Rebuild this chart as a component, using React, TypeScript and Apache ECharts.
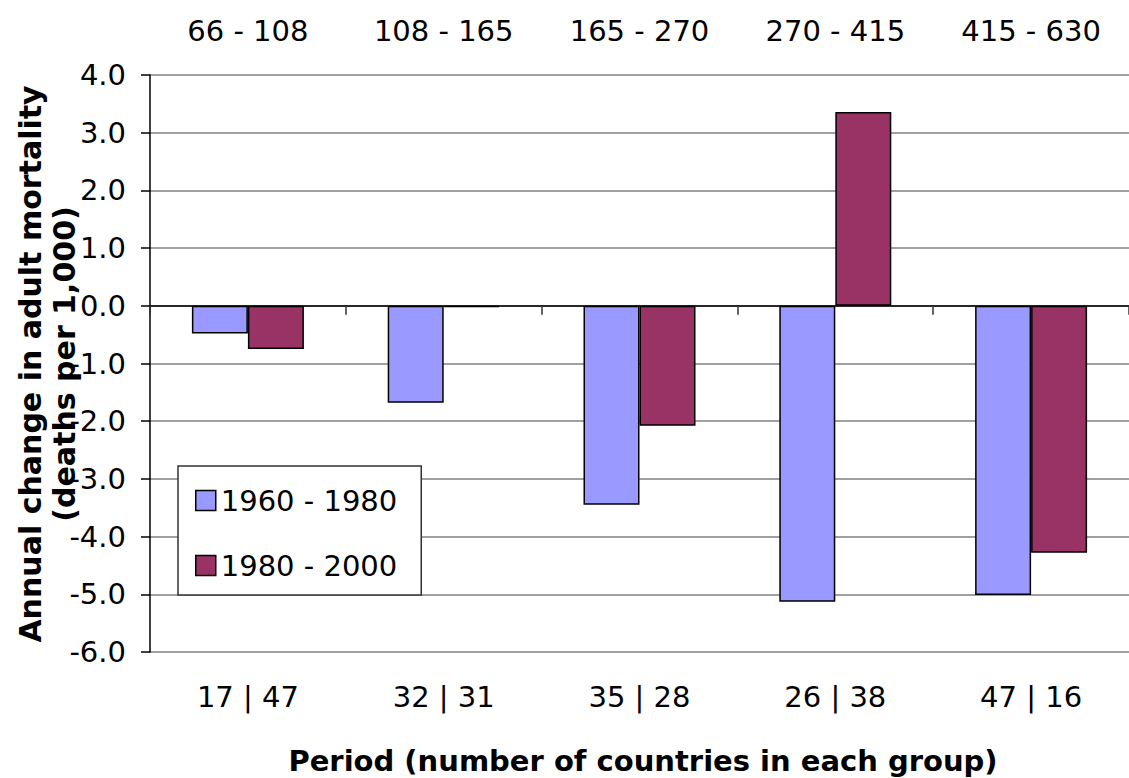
import React, { useEffect, useRef } from "react";
import * as echarts from "echarts";

const countryGroups = ["17 | 47", "32 | 31", "35 | 28", "26 | 38", "47 | 16"];
const rangeLabels = ["66 - 108", "108 - 165", "165 - 270", "270 - 415", "415 - 630"];
const seriesNames = ["1960 - 1980", "1980 - 2000"];
const values1960 = [-0.48, -1.68, -3.45, -5.13, -5.01];
const values1980 = [-0.75, -0.02, -2.08, 3.36, -4.28];
const yMin = -6;
const yMax = 4;
const yInterval = 1;
const yTitleLines = ["Annual change in adult mortality", "(deaths per 1,000)"];
const xTitle = "Period (number of countries in each group)";

const FONT = "DejaVu Sans, Verdana, sans-serif";
const FS = 29;
const TFS = 30;

export default function App() {
  const ref = useRef<HTMLDivElement>(null);
  useEffect(() => {
    document.body.style.margin = "0";
    if (!ref.current) return;
    const chart = echarts.init(ref.current, undefined, { renderer: "svg" });
    const barStyle = (color: string) => ({
      color,
      borderColor: "#000",
      borderWidth: 1.5,
    });
    chart.setOption({
      animation: false,
      backgroundColor: "#fff",
      textStyle: { fontFamily: FONT, color: "#000" },
      grid: { left: 150, top: 75, width: 993, height: 577, containLabel: false },
      legend: {
        orient: "vertical",
        left: 178,
        top: 466,
        data: seriesNames,
        icon: "rect",
        itemWidth: 20,
        itemHeight: 20,
        itemGap: 36,
        padding: [20, 24, 15, 17],
        backgroundColor: "#fff",
        borderColor: "#333",
        borderWidth: 1.5,
        borderRadius: 0,
        textStyle: { fontFamily: FONT, fontSize: FS, color: "#000" },
        itemStyle: { borderColor: "#000", borderWidth: 1.5 },
      },
      xAxis: [
        {
          type: "category",
          data: countryGroups,
          position: "bottom",
          axisLine: { show: true, onZero: true, lineStyle: { color: "#000", width: 1.5 } },
          axisTick: { show: true, length: 9, lineStyle: { color: "#333", width: 1.5 } },
          axisLabel: { show: false },
          splitLine: { show: false },
        },
        {
          type: "category",
          data: countryGroups,
          position: "bottom",
          axisLine: { show: false, onZero: false },
          axisTick: { show: false },
          axisLabel: { show: true, margin: 30, fontSize: FS, fontFamily: FONT, color: "#000" },
          splitLine: { show: false },
        },
        {
          type: "category",
          data: rangeLabels,
          position: "top",
          axisLine: { show: false, onZero: false },
          axisTick: { show: false },
          axisLabel: { show: true, margin: 30, fontSize: FS, fontFamily: FONT, color: "#000" },
          splitLine: { show: false },
        },
      ],
      yAxis: {
        type: "value",
        min: yMin,
        max: yMax,
        interval: yInterval,
        axisLine: { show: true, lineStyle: { color: "#000", width: 1.5 } },
        axisTick: { show: true, length: 9, lineStyle: { color: "#000", width: 1.5 } },
        axisLabel: {
          margin: 24,
          fontSize: FS,
          fontFamily: FONT,
          color: "#000",
          formatter: (v: number) => v.toFixed(1),
        },
        splitLine: { show: true, lineStyle: { color: "#808080", width: 1.5 } },
      },
      series: [
        {
          name: seriesNames[0],
          type: "bar",
          xAxisIndex: 0,
          data: values1960,
          barWidth: 56,
          barGap: "0%",
          itemStyle: barStyle("#9999FF"),
        },
        {
          name: seriesNames[1],
          type: "bar",
          xAxisIndex: 0,
          data: values1980,
          barWidth: 56,
          barGap: "0%",
          itemStyle: barStyle("#993366"),
        },
      ],
      graphic: [
        {
          type: "text",
          x: 30,
          y: 364,
          rotation: Math.PI / 2,
          style: {
            text: yTitleLines[0],
            fontFamily: FONT,
            fontSize: TFS,
            fontWeight: "bold",
            fill: "#000",
            align: "center",
            verticalAlign: "middle",
          },
        },
        {
          type: "text",
          x: 64,
          y: 364,
          rotation: Math.PI / 2,
          style: {
            text: yTitleLines[1],
            fontFamily: FONT,
            fontSize: TFS,
            fontWeight: "bold",
            fill: "#000",
            align: "center",
            verticalAlign: "middle",
          },
        },
        {
          type: "text",
          x: 643,
          y: 761,
          style: {
            text: xTitle,
            fontFamily: FONT,
            fontSize: 29,
            fontWeight: "bold",
            fill: "#000",
            align: "center",
            verticalAlign: "middle",
          },
        },
      ],
    });
    return () => chart.dispose();
  }, []);
  return <div ref={ref} style={{ width: 1129, height: 778 }} />;
}
